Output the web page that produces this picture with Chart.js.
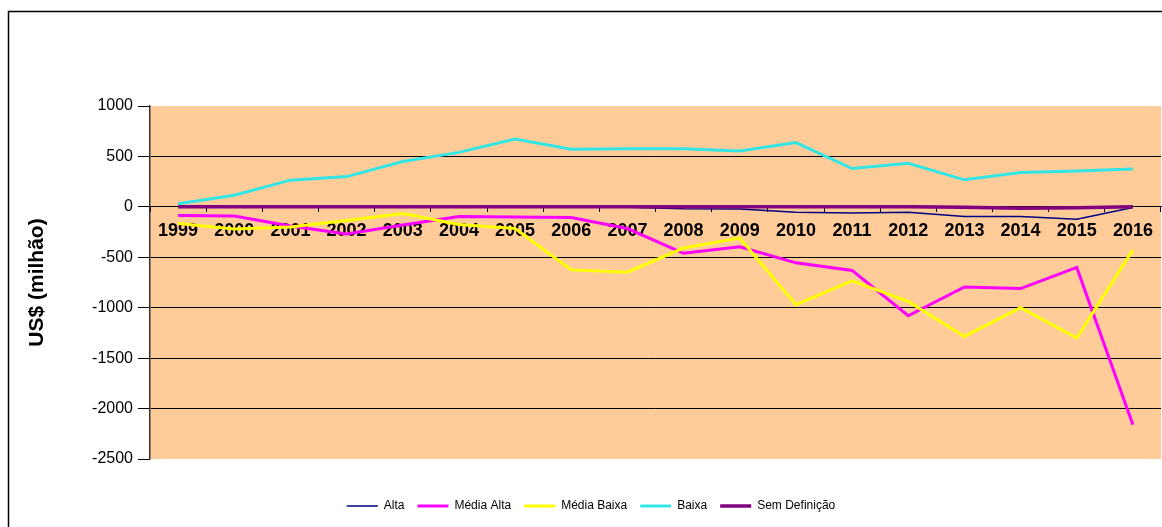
<!DOCTYPE html>
<html>
<head>
<meta charset="utf-8">
<script src="https://cdn.jsdelivr.net/npm/chart.js@4.4.1/dist/chart.umd.min.js"></script>
<style>
  html, body { margin: 0; padding: 0; background: #fff; }
  #wrap { position: relative; width: 1162px; height: 527px; }
</style>
</head>
<body>
<div id="wrap"><canvas id="c" width="1162" height="527"></canvas></div>
<script>
const years = ['1999','2000','2001','2002','2003','2004','2005','2006','2007','2008','2009','2010','2011','2012','2013','2014','2015','2016'];
const alta = [0, 0, 0, 0, 0, 0, 0, 0, -5, -20, -22, -53, -60, -53, -96, -96, -122, -7];
const mediaAlta = [-85, -90, -190, -270, -180, -95, -100, -105, -215, -460, -395, -555, -630, -1080, -795, -810, -600, -2160];
const mediaBaixa = [-165, -220, -200, -135, -65, -175, -215, -625, -648, -408, -310, -970, -733, -937, -1285, -1000, -1300, -426];
const baixa = [30, 115, 265, 300, 450, 540, 672, 572, 576, 576, 555, 637, 380, 432, 268, 340, 356, 376];
const semDefinicao = [0, 0, 0, 0, 0, 0, 0, 0, 0, 0, 0, 0, 0, 0, -5, -15, -10, 0];
const seriesNames = ['Alta', 'Média Alta', 'Média Baixa', 'Baixa', 'Sem Definição'];
const yTickValues = [1000, 500, 0, -500, -1000, -1500, -2000, -2500];

const FONT = "'Liberation Sans', Arial, sans-serif";

const bgPlugin = {
  id: 'bg',
  beforeDraw(chart) {
    const {ctx, chartArea: a} = chart;
    ctx.save();
    ctx.fillStyle = '#FFCC99';
    ctx.fillRect(a.left, a.top, a.right - a.left, a.bottom - a.top);
    ctx.strokeStyle = '#000';
    ctx.lineWidth = 1.5;
    ctx.beginPath();
    ctx.moveTo(8.5, 600);
    ctx.lineTo(8.5, 11.5);
    ctx.lineTo(1200, 11.5);
    ctx.stroke();
    ctx.restore();
  }
};

const mk = (label, data, color, width, order) => ({
  label, data, borderColor: color, backgroundColor: color,
  borderWidth: width, pointRadius: 0, tension: 0, fill: false, order
});

new Chart(document.getElementById('c'), {
  type: 'line',
  data: {
    labels: years,
    datasets: [
      mk(seriesNames[0], alta, '#000080', 1.5, 4),
      mk(seriesNames[1], mediaAlta, '#FF00FF', 3, 3),
      mk(seriesNames[2], mediaBaixa, '#FFFF00', 3, 2),
      mk(seriesNames[3], baixa, '#33E6E6', 3, 1),
      mk(seriesNames[4], semDefinicao, '#800080', 3.5, 0)
    ]
  },
  options: {
    responsive: false,
    animation: false,
    layout: { padding: { left: 21, right: 1, top: 106, bottom: 5 } },
    plugins: {
      legend: {
        position: 'bottom',
        labels: {
          font: { family: FONT, size: 12 },
          color: '#000',
          usePointStyle: true,
          pointStyle: 'line',
          pointStyleWidth: 31,
          padding: 13,
          sort: (a, b) => a.datasetIndex - b.datasetIndex
        }
      },
      tooltip: { enabled: false }
    },
    scales: {
      x: {
        type: 'category',
        position: { y: 0 },
        offset: true,
        grid: { display: true, drawOnChartArea: false, drawTicks: true, tickLength: 5, color: '#000', offset: true },
        border: { display: true, color: '#000', width: 1 },
        ticks: { font: { family: FONT, size: 18, weight: 'bold' }, color: '#000', padding: 8, maxRotation: 0, autoSkip: false }
      },
      spacer: {
        type: 'category',
        position: 'bottom',
        grid: { display: false },
        border: { display: false },
        ticks: { display: false },
        afterFit: (s) => { s.height = 28; }
      },
      y: {
        min: -2500, max: 1000,
        afterBuildTicks: (s) => { s.ticks = yTickValues.map(v => ({ value: v })); },
        afterFit: (s) => { s.width = 129; },
        grid: {
          color: (c) => (c.tick && (c.tick.value === 1000 || c.tick.value === -2500)) ? 'rgba(0,0,0,0)' : '#000',
          tickColor: '#000', lineWidth: 1, tickLength: 12
        },
        border: { display: true, color: '#333', width: 1.5 },
        ticks: { font: { family: FONT, size: 16 }, color: '#000', padding: 5, callback: (v) => String(v) },
        title: { display: true, text: 'US$ (milhão)', font: { family: FONT, size: 21, weight: 'bold' }, color: '#000', padding: { top: 4, bottom: 0 } }
      }
    }
  },
  plugins: [bgPlugin]
});
</script>
</body>
</html>
